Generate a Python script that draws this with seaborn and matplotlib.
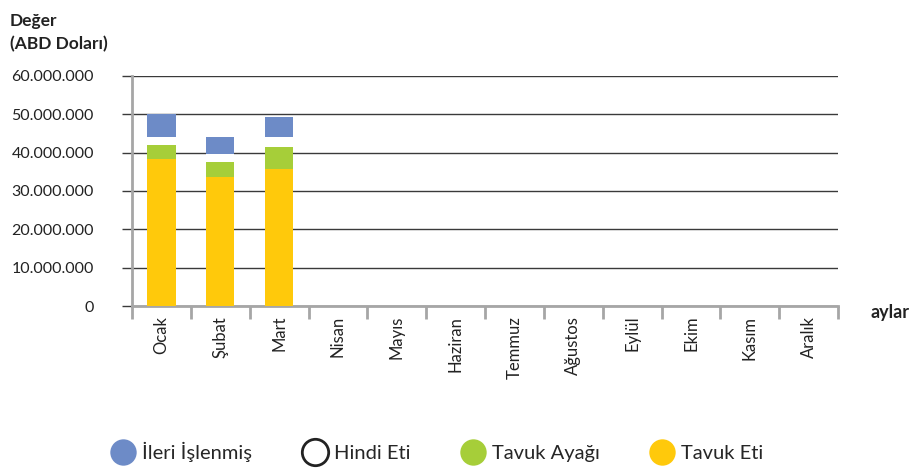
import numpy as np
import pandas as pd
import matplotlib.pyplot as plt
import seaborn as sns
from matplotlib.lines import Line2D
from matplotlib.ticker import FuncFormatter, FixedLocator

# aylar ve seriler (ABD Doları)
aylar = ['Ocak', 'Şubat', 'Mart', 'Nisan', 'Mayıs', 'Haziran', 'Temmuz',
         'Ağustos', 'Eylül', 'Ekim', 'Kasım', 'Aralık']
tavuk_eti = [38350000, 33650000, 35740000] + [0] * 9
tavuk_ayagi = [3650000, 3900000, 5740000] + [0] * 9
hindi_eti = [2170000, 2170000, 2700000] + [0] * 9
ileri_islenmis = [5830000, 4350000, 5130000] + [0] * 9

seriler = ['İleri İşlenmiş', 'Hindi Eti', 'Tavuk Ayağı', 'Tavuk Eti']
renkler = {'İleri İşlenmiş': '#6D8BC7', 'Hindi Eti': '#FFFFFF',
           'Tavuk Ayağı': '#A6CE39', 'Tavuk Eti': '#FFC90B'}

df = pd.DataFrame({'ay': aylar, 'Tavuk Eti': tavuk_eti, 'Tavuk Ayağı': tavuk_ayagi,
                   'Hindi Eti': hindi_eti, 'İleri İşlenmiş': ileri_islenmis})

sns.set_style('white')
plt.rcParams['font.family'] = ['Lato', 'DejaVu Sans']

fig = plt.figure(figsize=(9.17, 4.68), dpi=100)
ax = fig.add_axes([0.144, 0.346, 0.77, 0.492])

# yığılmış çubuklar
alt = np.zeros(len(aylar))
for s in ['Tavuk Eti', 'Tavuk Ayağı', 'Hindi Eti', 'İleri İşlenmiş']:
    sns.barplot(data=df, x='ay', y=s, order=aylar, color=renkler[s],
                bottom=alt, width=0.48, linewidth=0, saturation=1, ax=ax, zorder=3)
    alt = alt + df[s].values

ax.set_ylim(0, 60000000)
ax.set_xlim(-0.5, 11.5)
ax.set_yticks(np.arange(0, 60000001, 10000000))
ax.yaxis.set_major_formatter(FuncFormatter(lambda v, p: f'{int(v):,}'.replace(',', '.')))
ax.grid(axis='y', color='#3A3A3A', linewidth=1, zorder=0)
ax.set_axisbelow(True)

for side in ['top', 'right']:
    ax.spines[side].set_visible(False)
for side in ['left', 'bottom']:
    ax.spines[side].set_color('#A6A6A6')
    ax.spines[side].set_linewidth(2)

ax.tick_params(axis='y', which='major', left=True, length=7.5, width=1,
               color='#3A3A3A', labelsize=11.5, labelcolor='#222222', pad=20)
ax.tick_params(axis='x', which='major', bottom=False, length=0, labelsize=12,
               labelcolor='#222222', labelrotation=90, pad=7)
ax.xaxis.set_minor_locator(FixedLocator(np.arange(-0.5, 12, 1)))
ax.tick_params(axis='x', which='minor', bottom=True, length=9, width=2, color='#A6A6A6')

ax.set_xlabel('')
ax.set_ylabel('')

fig.text(0.011, 0.972, 'Değer\n(ABD Doları)', fontsize=12.5, fontweight='bold',
         ha='left', va='top', color='#222222', linespacing=1.55)
fig.text(0.949, 0.333, 'aylar', fontsize=13, fontweight='bold', ha='left',
         va='center', color='#222222')

# lejant
tutamaklar = []
for s in seriler:
    kenar = '#222222' if s == 'Hindi Eti' else renkler[s]
    tutamaklar.append(Line2D([], [], linestyle='none', marker='o', markersize=19,
                             markerfacecolor=renkler[s], markeredgecolor=kenar,
                             markeredgewidth=2 if s == 'Hindi Eti' else 0))
fig.legend(tutamaklar, seriler, loc='center', bbox_to_anchor=(0.477, 0.034), ncol=4,
           frameon=False, fontsize=14.5, handletextpad=0.35, columnspacing=2.5,
           handlelength=1.2)

fig.savefig('out.png', dpi=100)
